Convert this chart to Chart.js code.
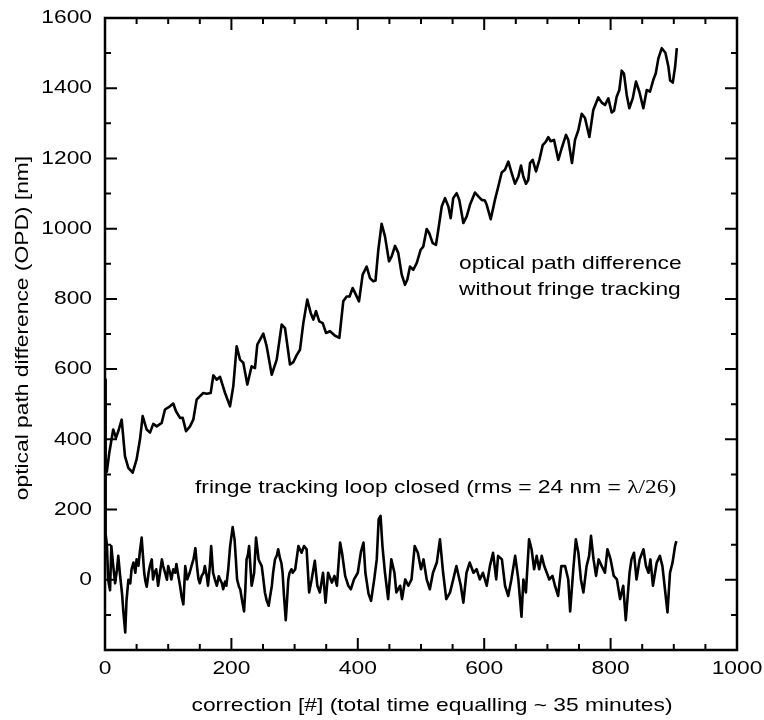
<!DOCTYPE html>
<html>
<head>
<meta charset="utf-8">
<script src="https://cdn.jsdelivr.net/npm/chart.js@4/dist/chart.umd.min.js"></script>
<style>
html, body { margin: 0; padding: 0; background: #fff; }
</style>
</head>
<body>
<canvas id="chart" width="764" height="720"></canvas>
<script>
// axis ticks
const xTicks = [0, 200, 400, 600, 800, 1000];
const xMinor = [50, 100, 150, 250, 300, 350, 450, 500, 550, 650, 700, 750, 850, 900, 950];
const yTicks = [0, 200, 400, 600, 800, 1000, 1200, 1400, 1600];
const yMinor = [-100, 100, 300, 500, 700, 900, 1100, 1300, 1500];

// open loop (no fringe tracking)
const openX = [
  2.7, 6.8, 13, 17.4, 21, 26.4, 31.6, 36.9, 43.8, 50,
  55.4, 59.6, 65.9, 71.2, 76.4, 81.8, 89.7, 94.9, 102.8, 108,
  112.3, 118.7, 123, 128.2, 134.5, 139.7, 145, 150.3, 155.5, 161,
  167.2, 171.4, 176.7, 182, 190, 197.8, 203, 208.3, 213.6, 218.8,
  225.2, 232, 237.3, 241, 250.5, 255.8, 263.8, 271.7, 279.6, 284.8,
  292.7, 298, 303.3, 308.5, 313.8, 320, 325.5, 329.6, 333.9, 339,
  344.5, 349.7, 356, 364, 370.8, 377, 382.4, 387, 391.9, 395.6,
  401.9, 407.7, 414, 419.3, 424.5, 428, 432.5, 437.7, 443, 449.4,
  453.6, 458.9, 464, 469.5, 474.7, 478.4, 482.6, 487.8, 493.2, 499.5,
  503.6, 509, 513.1, 518.5, 523.7, 527.4, 532.8, 538, 543.3, 547,
  551, 556.4, 560.6, 567, 572.3, 577.5, 585.4, 590.7, 596, 601,
  604, 610.3, 617, 622.3, 627.7, 632.9, 638.2, 643.5, 648.7, 654,
  658.2, 662, 666.1, 669.8, 672.5, 676.7, 682, 687.3, 692.6, 697.3,
  701.4, 705.2, 710.4, 717.3, 722.6, 729.4, 733, 738.9, 743.7, 749,
  754.3, 759.5, 766.4, 772.6, 775.3, 780.6, 786, 791.1, 796.4, 801.7,
  805.4, 809.6, 813.8, 817.6, 821.2, 825.5, 829.6, 835, 840.2, 845.5,
  851.8, 857.2, 862.3, 867.6, 871.4, 875.6, 881, 886.7, 891.5, 894.2,
  898.4, 902.1, 904.8
];
const openY = [
  305, 362, 428, 404, 423, 456, 352, 319, 305, 343,
  400, 466, 428, 419, 444, 437, 447, 485, 494, 502,
  480, 461, 461, 423, 437, 456, 513, 523, 532, 530,
  532, 582, 570, 578, 532, 494, 551, 665, 627, 618,
  556, 608, 603, 670, 701, 665, 584, 627, 727, 717,
  613, 620, 640, 655, 731, 798, 760, 741, 765, 736,
  731, 703, 708, 695, 689, 793, 807, 807, 831, 817,
  793, 869, 892, 859, 850, 852, 940, 1014, 978, 907,
  921, 951, 931, 869, 840, 855, 892, 883, 902, 940,
  949, 999, 987, 959, 954, 997, 1063, 1087, 1063, 1030,
  1087, 1101, 1082, 1016, 1035, 1068, 1103, 1092, 1082, 1080,
  1068, 1027, 1082, 1120, 1160, 1168, 1191, 1158, 1128, 1148,
  1180, 1148, 1128, 1139, 1187, 1196, 1163, 1196, 1238, 1247,
  1261, 1249, 1253, 1196, 1229, 1267, 1253, 1187, 1253, 1281,
  1327, 1315, 1261, 1338, 1350, 1374, 1359, 1352, 1371, 1331,
  1336, 1376, 1395, 1450, 1441, 1381, 1343, 1371, 1419, 1390,
  1343, 1395, 1390, 1424, 1442, 1485, 1514, 1501, 1461, 1422,
  1416, 1461, 1514
];

// closed loop (fringe tracking on)
const closedX = [
  0, 1, 3, 5, 8, 10, 13, 16, 19, 21,
  24, 27, 29, 32, 34, 37, 40, 42, 45, 48,
  50, 53, 55, 58, 60, 62, 64, 66, 69, 71,
  74, 76, 78, 81, 83, 84, 87, 90, 92, 95,
  98, 100, 103, 105, 108, 111, 113, 116, 119, 121,
  124, 127, 130, 132, 134, 137, 140, 143, 146, 148,
  150, 153, 156, 158, 161, 163, 166, 168, 171, 174,
  177, 180, 182, 185, 187, 190, 192, 195, 198, 202,
  205, 207, 209, 212, 214, 217, 220, 222, 224, 226,
  228, 230, 232, 234, 236, 239, 241, 243, 245, 248,
  250, 253, 256, 259, 261, 264, 266, 269, 272, 274,
  277, 279, 281, 283, 286, 288, 290, 292, 295, 297,
  301, 306, 311, 315, 319, 323, 327, 332, 336, 340,
  345, 349, 353, 359, 363, 367, 372, 375, 380, 385,
  389, 394, 400, 405, 409, 412, 417, 421, 426, 430,
  433, 436, 439, 443, 448, 453, 458, 461, 467, 470,
  475, 480, 485, 490, 495, 500, 504, 509, 514, 519,
  525, 530, 535, 540, 546, 551, 556, 563, 567, 572,
  577, 583, 588, 593, 598, 604, 609, 614, 619, 622,
  628, 633, 638, 643, 649, 654, 659, 662, 666, 671,
  675, 679, 683, 687, 691, 695, 699, 703, 708, 712,
  717, 722, 728, 733, 736, 741, 745, 749, 753, 757,
  762, 766, 769, 773, 777, 781, 786, 791, 795, 800,
  805, 810, 815, 820, 824, 830, 833, 837, 841, 846,
  852, 856, 860, 863, 867, 873, 878, 882, 886, 890,
  894, 898, 902, 904
];
const closedY = [
  570, 130, 100, 0, -30, 96, 40, -10, 30, 68,
  10, -40, -90, -150, -60, 0, -10, 30, 49, 20,
  58, 40, 77, 120, 70, 20, -5, -20, 20, 39,
  58, 1, 20, 30, 0, -17, 20, 58, 40, 20,
  0, 39, 20, 1, 30, 20, 45, 11, -20, -46,
  -70, 39, 1, 10, 20, 40, 58, 90, 30, 1,
  -10, 11, 20, 39, 10, -17, 40, 96, 20, 0,
  -17, 10, 1, -10, -27, -5, -17, 30, 96, 150,
  115, 60, 1, -20, -27, -60, -90, -30, 58, 70,
  96, 40, -17, 0, 20, 120, 90, 58, 50, 39,
  10, -36, -60, -74, -50, -17, 20, 58, 70, 87,
  60, 49, 20, -40, -115, -60, 0, 20, 30, 20,
  30, 96, 77, 96, 87, -36, 1, 54, -17, -36,
  20, -65, 20, -8, 11, -17, 106, 77, 11, -17,
  -27, 1, 20, 80, 106, 20, -40, -60, 1, 58,
  172, 182, 96, 20, -55, 58, 20, -36, -17, -55,
  1, -17, 1, 96, 77, 30, 58, 1, -27, 20,
  49, 115, 20, -55, -36, 1, 39, -17, -65, 20,
  49, 20, 30, 1, 20, -17, 39, 77, 1, 68,
  58, -17, -46, 1, 68, 1, -105, 1, -36, 115,
  87, 30, 68, 30, 68, 39, 20, 1, 11, -17,
  -46, 39, 39, 1, -90, 30, 115, 77, 1, -36,
  39, 68, 125, 58, 11, 58, 39, 20, 87, 58,
  11, 1, -55, -17, -115, 20, 58, 77, 1, 58,
  87, 39, 20, 58, -17, 49, 68, 39, -27, -93,
  20, 49, 96, 110
];

const SANS = '"Liberation Sans", Arial, Helvetica, sans-serif';
const SERIF = '"Liberation Serif", "Times New Roman", serif';
const STRETCH = 1.2;

function wideText(ctx, text, x, y, align) {
  ctx.save();
  ctx.translate(x, y);
  ctx.scale(STRETCH, 1);
  ctx.textAlign = align;
  ctx.fillText(text, 0, 0);
  ctx.restore();
}

// frame with inward ticks on all four sides, plus all text
const framePlugin = {
  id: 'frame',
  afterDatasetsDraw(chart) {
    const { ctx, chartArea: a, scales: { x, y } } = chart;
    ctx.save();
    ctx.strokeStyle = '#000';
    ctx.lineWidth = 2;
    ctx.beginPath();
    const vTick = (v, len) => {
      const px = x.getPixelForValue(v);
      ctx.moveTo(px, a.bottom); ctx.lineTo(px, a.bottom - len);
      ctx.moveTo(px, a.top); ctx.lineTo(px, a.top + len);
    };
    const hTick = (v, len) => {
      const py = y.getPixelForValue(v);
      ctx.moveTo(a.left, py); ctx.lineTo(a.left + len, py);
      ctx.moveTo(a.right, py); ctx.lineTo(a.right - len, py);
    };
    xTicks.forEach(v => vTick(v, 12));
    xMinor.forEach(v => vTick(v, 6));
    yTicks.forEach(v => hTick(v, 12));
    yMinor.forEach(v => hTick(v, 6));
    ctx.stroke();
    ctx.lineWidth = 2.5;
    ctx.strokeRect(a.left, a.top, a.right - a.left, a.bottom - a.top);

    ctx.fillStyle = '#000';
    ctx.font = '19px ' + SANS;
    ctx.textBaseline = 'middle';
    xTicks.forEach(v => wideText(ctx, String(v), x.getPixelForValue(v), a.bottom + 19, 'center'));
    yTicks.forEach(v => wideText(ctx, String(v), a.left - 13, y.getPixelForValue(v), 'right'));

    // axis titles
    wideText(ctx, 'correction [#] (total time equalling ~ 35 minutes)', 432, 706, 'center');
    ctx.save();
    ctx.translate(23, 328);
    ctx.rotate(-Math.PI / 2);
    wideText(ctx, 'optical path difference (OPD) [nm]', 0, 0, 'center');
    ctx.restore();

    // annotations
    ctx.textBaseline = 'alphabetic';
    wideText(ctx, 'optical path difference', 459, 269, 'left');
    wideText(ctx, 'without fringe tracking', 459, 295, 'left');
    const part = 'fringe tracking loop closed (rms = 24 nm = ';
    wideText(ctx, part, 195, 493, 'left');
    const w = ctx.measureText(part).width * STRETCH;
    ctx.font = '19.5px ' + SERIF;
    wideText(ctx, '\u03bb/26)', 195 + w, 493, 'left');
    ctx.restore();
  }
};

new Chart(document.getElementById('chart'), {
  type: 'line',
  data: {
    datasets: [
      {
        label: 'without fringe tracking',
        data: openX.map((v, i) => ({ x: v, y: openY[i] }))
      },
      {
        label: 'fringe tracking loop closed',
        data: closedX.map((v, i) => ({ x: v, y: closedY[i] }))
      }
    ]
  },
  options: {
    responsive: false,
    animation: false,
    layout: { padding: { left: 105, top: 18, right: 27, bottom: 70 } },
    elements: {
      point: { radius: 0 },
      line: { borderColor: '#000', borderWidth: 2.6, tension: 0, borderJoinStyle: 'round' }
    },
    scales: {
      x: { type: 'linear', display: false, min: 0, max: 1000 },
      y: { type: 'linear', display: false, min: -200, max: 1600 }
    },
    plugins: { legend: { display: false }, tooltip: { enabled: false } }
  },
  plugins: [framePlugin]
});
</script>
</body>
</html>
